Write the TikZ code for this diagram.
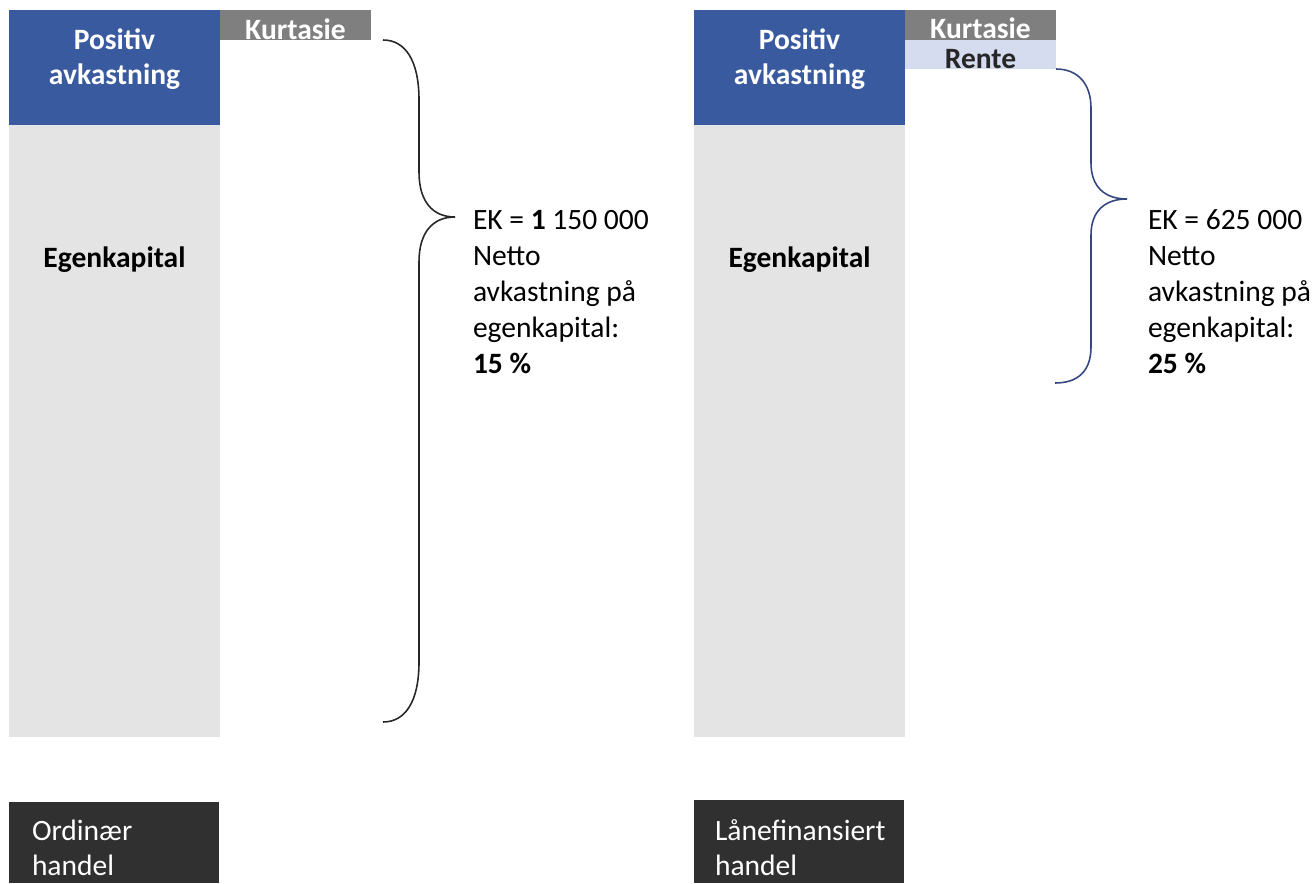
\documentclass[tikz,border=0pt]{standalone}
\usepackage{fontspec}
\setmainfont{Carlito}
\usetikzlibrary{positioning}
\definecolor{posblue}{HTML}{3A5AA0}
\definecolor{ekgray}{HTML}{E4E4E4}
\definecolor{feegray}{HTML}{7F7F7F}
\definecolor{rentblue}{HTML}{D6DCEF}
\definecolor{tagdark}{HTML}{303030}
\definecolor{bracenavy}{HTML}{34477F}

\begin{document}
\begin{tikzpicture}[x=0.02cm,y=-0.02cm]
   \tikzstyle{every node}=[inner sep=0pt, outer sep=0pt, font=\fontsize{16.8}{20.2}\selectfont]
   \tikzstyle{gainbox}=[fill=posblue, minimum width=4.22cm, minimum height=2.3cm]
   \tikzstyle{ekbox}=[fill=ekgray, minimum width=4.22cm, minimum height=12.24cm]
   \tikzstyle{feebox}=[fill=feegray, minimum width=3.02cm, minimum height=0.6cm]
   \tikzstyle{rentbox}=[fill=rentblue, minimum width=3.02cm, minimum height=0.6cm]
   \tikzstyle{tagbox}=[fill=tagdark, minimum width=4.2cm, anchor=north west]
   \tikzstyle{whitetext}=[text=white, align=left, anchor=base west, font=\fontsize{16.8}{19.5}\selectfont]
   \tikzstyle{note}=[align=left, anchor=base west, font=\fontsize{16.8}{20.4}\selectfont]

\useasboundingbox (0,0) rectangle (1315,883);

\node[gainbox] (gainL) at (114.5,67.5) {};
\node[ekbox] (ekL) at (114.5,431) {};
\node[feebox] (feeL) at (295.5,25) {};
\node[text=white, font=\fontsize{16.8}{19.5}\selectfont\bfseries, align=center, anchor=base]
   (gainLtext) at (114.5,84) {Positiv\\avkastning};
\node[font=\fontsize{16.8}{20}\selectfont\bfseries, anchor=base] (ekLtext) at (114.5,267) {Egenkapital};
\node[text=white, font=\fontsize{16.8}{20}\selectfont\bfseries, anchor=base] (feeLtext) at (295.5,39) {Kurtasie};
\node[tagbox, minimum height=1.62cm] (tagL) at (9,802) {};
\node[whitetext] (tagLtext) at (32,875) {Ordinær\\handel};
\node[note] (noteL) at (473,373) {EK = \textbf{1} 150 000\\Netto\\avkastning på\\egenkapital:\\\textbf{15 \%}};

\coordinate (braceLtop) at (383,40);
\coordinate (braceLtip) at (455,217);
\coordinate (braceLbot) at (383,722);
\draw[line width=0.9pt, black!85] (braceLtop) .. controls (405,40) and (419,60) .. (419,100) -- (419,172)
   .. controls (419,202) and (433,217) .. (braceLtip)
   .. controls (433,217) and (419,232) .. (419,262) -- (419,662)
   .. controls (419,702) and (405,722) .. (braceLbot);

\node[gainbox] (gainR) at (799.5,67.5) {};
\node[ekbox] (ekR) at (799.5,431) {};
\node[feebox] (feeR) at (980.5,24.5) {};
\node[rentbox, minimum height=0.58cm] (rentR) at (980.5,54) {};
\node[text=white, font=\fontsize{16.8}{19.5}\selectfont\bfseries, align=center, anchor=base]
   (gainRtext) at (799.5,84) {Positiv\\avkastning};
\node[font=\fontsize{16.8}{20}\selectfont\bfseries, anchor=base] (ekRtext) at (799.5,267) {Egenkapital};
\node[text=white, font=\fontsize{16.8}{20}\selectfont\bfseries, anchor=base] (feeRtext) at (980.5,38) {Kurtasie};
\node[text=black!85, font=\fontsize{16.8}{20}\selectfont\bfseries, anchor=base] (rentRtext) at (980.5,68) {Rente};
\node[tagbox, minimum height=1.66cm] (tagR) at (694,800) {};
\node[whitetext] (tagRtext) at (715,875) {Lånefinansiert\\handel};
\node[note] (noteR) at (1148,373) {EK = 625 000\\Netto\\avkastning på\\egenkapital:\\\textbf{25 \%}};

\coordinate (braceRtop) at (1056,69);
\coordinate (braceRtip) at (1127,199);
\coordinate (braceRbot) at (1055,383);
\draw[line width=0.9pt, bracenavy] (braceRtop) .. controls (1078,69) and (1091,84) .. (1091,108) -- (1091,163)
   .. controls (1091,187) and (1105,199) .. (braceRtip)
   .. controls (1105,199) and (1091,211) .. (1091,235) -- (1091,347)
   .. controls (1091,371) and (1078,383) .. (braceRbot);
\end{tikzpicture}
\end{document}
